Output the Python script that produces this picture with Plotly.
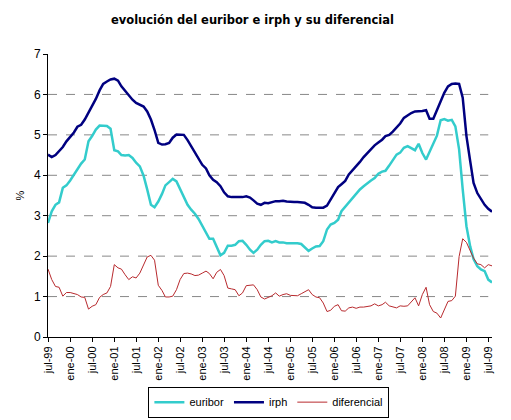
import plotly.graph_objects as go
import pandas as pd

# monthly series, jul-99 .. aug-09
meses = pd.date_range("1999-07-01", periods=122, freq="MS")

euribor = [
    2.82, 3.11, 3.27, 3.33, 3.69, 3.75, 3.87, 4.02, 4.16, 4.29, 4.39, 4.84,
    4.97, 5.13, 5.23, 5.23, 5.22, 5.15, 4.62, 4.59, 4.50, 4.49, 4.50, 4.43,
    4.31, 4.22, 3.99, 3.65, 3.27, 3.21, 3.35, 3.54, 3.75, 3.83, 3.91, 3.85,
    3.66, 3.48, 3.27, 3.15, 3.05, 2.92, 2.75, 2.57, 2.43, 2.43, 2.23, 2.02,
    2.08, 2.26, 2.26, 2.28, 2.37, 2.38, 2.28, 2.16, 2.08, 2.16, 2.28, 2.37,
    2.38, 2.34, 2.37, 2.34, 2.34, 2.32, 2.32, 2.32, 2.32, 2.30, 2.22, 2.13,
    2.19, 2.24, 2.25, 2.37, 2.66, 2.78, 2.82, 2.90, 3.11, 3.22, 3.32, 3.42,
    3.55, 3.65, 3.73, 3.81, 3.87, 3.93, 4.04, 4.09, 4.11, 4.24, 4.39, 4.51,
    4.56, 4.68, 4.72, 4.67, 4.62, 4.78, 4.55, 4.39, 4.59, 4.77, 4.98, 5.36,
    5.39, 5.35, 5.37, 5.21, 4.64, 3.65, 2.74, 2.24, 1.93, 1.75, 1.67, 1.63,
    1.42, 1.35,
]

irph = [
    4.51, 4.45, 4.50, 4.59, 4.70, 4.84, 4.95, 5.06, 5.20, 5.25, 5.38, 5.54,
    5.71, 5.89, 6.10, 6.26, 6.32, 6.37, 6.39, 6.34, 6.20, 6.08, 5.98, 5.87,
    5.79, 5.74, 5.70, 5.58, 5.38, 5.12, 4.80, 4.76, 4.77, 4.80, 4.93, 5.01,
    5.01, 5.00, 4.87, 4.72, 4.55, 4.39, 4.26, 4.17, 4.00, 3.89, 3.83, 3.73,
    3.58, 3.48, 3.46, 3.46, 3.46, 3.46, 3.48, 3.45, 3.38, 3.30, 3.27, 3.32,
    3.31, 3.34, 3.36, 3.36, 3.37, 3.35, 3.34, 3.34, 3.34, 3.33, 3.32, 3.27,
    3.21, 3.20, 3.20, 3.20, 3.25, 3.40, 3.58, 3.71, 3.78, 3.86, 4.02, 4.12,
    4.22, 4.33, 4.45, 4.55, 4.64, 4.74, 4.81, 4.88, 4.97, 5.00, 5.08, 5.18,
    5.28, 5.42, 5.49, 5.54, 5.58, 5.58, 5.59, 5.61, 5.40, 5.40, 5.61, 5.79,
    6.04, 6.20, 6.26, 6.27, 6.26, 5.92, 4.97, 4.35, 3.81, 3.56, 3.42, 3.27,
    3.17, 3.10,
]

diferencial = [
    1.68, 1.42, 1.25, 1.23, 1.01, 1.10, 1.10, 1.07, 1.05, 0.99, 0.98, 0.69,
    0.76, 0.80, 0.98, 1.05, 1.09, 1.25, 1.79, 1.71, 1.68, 1.54, 1.42, 1.49,
    1.46, 1.58, 1.79, 1.98, 2.02, 1.90, 1.28, 1.15, 0.99, 0.99, 1.01, 1.17,
    1.42, 1.57, 1.58, 1.56, 1.52, 1.53, 1.58, 1.63, 1.57, 1.44, 1.60, 1.67,
    1.52, 1.21, 1.19, 1.17, 1.02, 1.09, 1.27, 1.29, 1.29, 1.17, 0.99, 0.94,
    0.97, 1.02, 1.09, 1.01, 1.05, 1.07, 1.03, 1.02, 1.02, 1.07, 1.13, 1.17,
    1.05, 0.99, 0.97, 0.84, 0.63, 0.66, 0.76, 0.80, 0.65, 0.64, 0.72, 0.74,
    0.71, 0.74, 0.74, 0.76, 0.77, 0.82, 0.77, 0.80, 0.86, 0.77, 0.74, 0.72,
    0.77, 0.76, 0.77, 0.88, 0.97, 0.77, 1.05, 1.23, 0.80, 0.63, 0.59, 0.47,
    0.68, 0.88, 0.90, 1.01, 1.99, 2.43, 2.34, 2.12, 1.95, 1.81, 1.79, 1.71,
    1.79, 1.76,
]

tick_fechas = pd.date_range("1999-07-01", "2009-07-01", freq="6MS")
tick_textos = [
    "jul-99", "ene-00", "jul-00", "ene-01", "jul-01", "ene-02", "jul-02",
    "ene-03", "jul-03", "ene-04", "jul-04", "ene-05", "jul-05", "ene-06",
    "jul-06", "ene-07", "jul-07", "ene-08", "jul-08", "ene-09", "jul-09",
]
y_ticks = [0, 1, 2, 3, 4, 5, 6, 7]

fig = go.Figure()
fig.add_trace(go.Scatter(x=meses, y=euribor, name="euribor", mode="lines",
                         line=dict(color="#33CCCC", width=2.5)))
fig.add_trace(go.Scatter(x=meses, y=irph, name="irph", mode="lines",
                         line=dict(color="#000080", width=2.5)))
fig.add_trace(go.Scatter(x=meses, y=diferencial, name="diferencial", mode="lines",
                         line=dict(color="#B82A2E", width=1)))

# dashed gridlines (none at the top value)
for v in y_ticks[1:-1]:
    fig.add_shape(type="line", xref="x", yref="y", x0=meses[0], x1=tick_fechas[-1],
                  y0=v, y1=v, line=dict(color="#888888", width=1, dash="dash"),
                  layer="below")

# page body has an 8px margin, so the figure is 8px smaller than the window
fig.update_layout(
    width=503, height=412,
    margin=dict(l=39.5, r=19.3, t=46, b=82.7),
    paper_bgcolor="white", plot_bgcolor="white",
    title=dict(text="<b>evolución del euribor e irph y su diferencial</b>",
               x=0.486, xanchor="center", y=0.971, yanchor="middle",
               font=dict(family="DejaVu Sans", size=11.5, color="black")),
    font=dict(family="Liberation Sans, Arial", size=11, color="black"),
    showlegend=True,
    legend=dict(orientation="h", x=0.4975, xanchor="center",
                yref="container", y=0.081, yanchor="top",
                bordercolor="black", borderwidth=1, font=dict(size=11),
                itemwidth=30, tracegroupgap=0),
    xaxis=dict(range=[meses[0], meses[-1]], tickvals=tick_fechas, ticktext=tick_textos,
               tickangle=-90, ticks="outside", ticklen=4, tickcolor="black",
               showline=True, linecolor="black", linewidth=1, showgrid=False,
               zeroline=False, tickfont=dict(size=11), automargin=False),
    yaxis=dict(range=[0, 7], tickvals=y_ticks, ticks="outside", ticklen=4,
               tickcolor="black", showline=True, linecolor="black", linewidth=1,
               showgrid=False, zeroline=False, tickfont=dict(size=12),
               automargin=False,
               title=dict(text="%", standoff=6.5, font=dict(size=11))),
)

fig.write_html("out.html")
